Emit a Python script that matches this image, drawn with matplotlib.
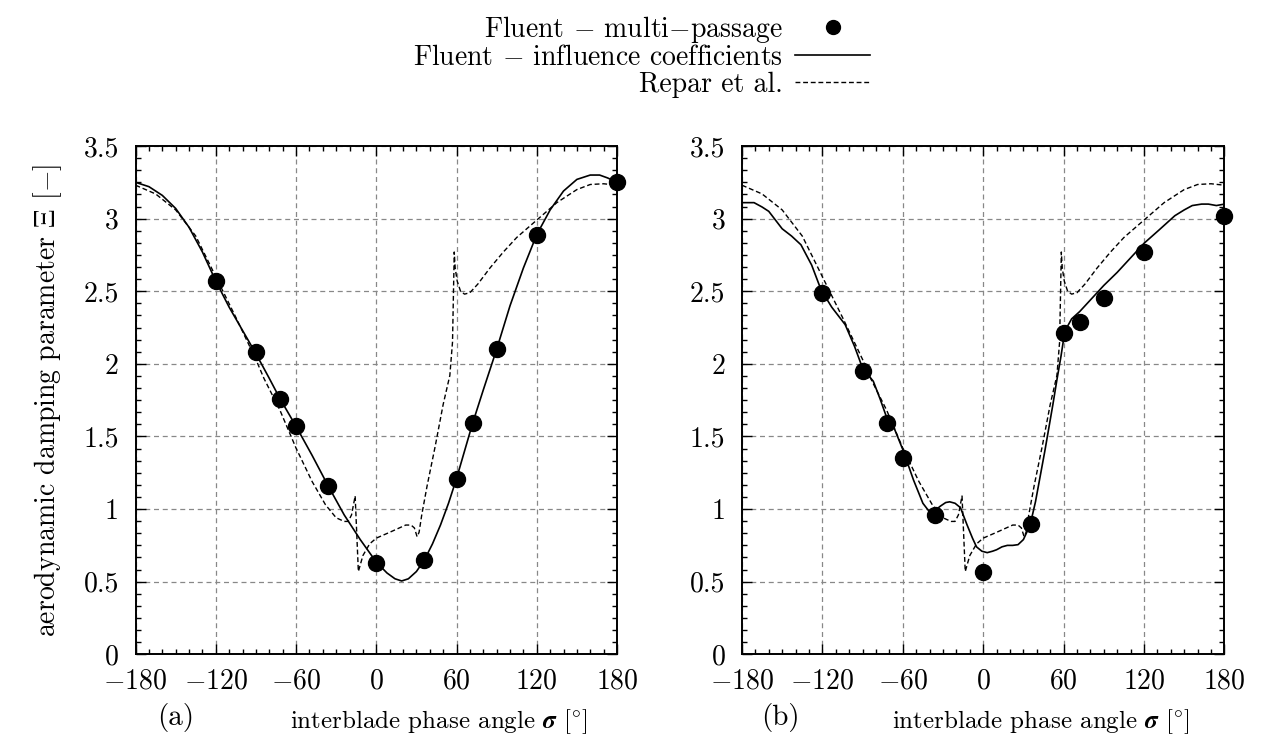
import matplotlib
matplotlib.use("Agg")
import matplotlib.pyplot as plt
from matplotlib.lines import Line2D
from matplotlib.ticker import MultipleLocator, FixedLocator

plt.rcParams['font.family'] = ['cmr10', 'DejaVu Serif']
plt.rcParams['mathtext.fontset'] = 'cm'
plt.rcParams['axes.formatter.use_mathtext'] = True
plt.rcParams['axes.unicode_minus'] = True

# ---------------- data ----------------
# multi-passage points (panel a)
mp_a_sigma = [-120, -90, -72, -60, -36, 0, 36, 60, 72, 90, 120, 180]
mp_a_xi = [2.57, 2.08, 1.76, 1.57, 1.16, 0.63, 0.65, 1.21, 1.59, 2.10, 2.89, 3.25]

# influence coefficients (panel a)
ic_a_sigma = [-180, -170, -160, -150, -140, -130, -120, -110, -100, -90, -80, -72,
              -60, -48, -36, -24, -12, 0, 8, 14, 19, 24, 30, 36, 42, 48, 54, 60,
              66, 72, 80, 90, 100, 110, 120, 130, 140, 150, 160, 167, 173, 180]
ic_a_xi = [3.25, 3.22, 3.16, 3.07, 2.94, 2.77, 2.57, 2.39, 2.23, 2.07, 1.90, 1.76,
           1.57, 1.37, 1.16, 0.96, 0.79, 0.635, 0.56, 0.52, 0.505, 0.52, 0.57, 0.65, 0.76, 0.89, 1.04, 1.21,
           1.40, 1.59, 1.82, 2.10, 2.40, 2.66, 2.89, 3.06, 3.19, 3.27, 3.30, 3.30, 3.28, 3.25]

# multi-passage points (panel b)
mp_b_sigma = [-120, -90, -72, -60, -36, 0, 36, 60, 72, 90, 120, 180]
mp_b_xi = [2.49, 1.95, 1.59, 1.35, 0.96, 0.57, 0.90, 2.21, 2.29, 2.45, 2.77, 3.02]

# influence coefficients (panel b)
ic_b_sigma = [-180, -171, -165, -160, -150, -143, -136, -128, -121, -113, -103, -96, -90,
              -82, -77, -72, -67, -60, -52, -45, -40, -36, -32, -28, -25, -21, -17, -12,
              -8, -5, -1, 3, 7, 10, 14, 18, 22, 26, 30, 33, 36, 39, 42, 46, 49, 52, 55,
              58, 60, 63, 66, 72, 80, 90, 100, 110, 120, 131, 143, 150, 156, 163, 168, 174, 180]
ic_b_xi = [3.11, 3.11, 3.08, 3.05, 2.93, 2.88, 2.82, 2.68, 2.51, 2.39, 2.27, 2.12, 1.97,
           1.88, 1.76, 1.63, 1.57, 1.41, 1.20, 1.04, 0.98, 0.99, 1.02, 1.045, 1.05, 1.04, 1.01, 0.89,
           0.80, 0.74, 0.71, 0.70, 0.71, 0.72, 0.74, 0.75, 0.75, 0.755, 0.79, 0.85, 0.93, 1.05, 1.20, 1.40, 1.56, 1.72, 1.89,
           2.05, 2.17, 2.26, 2.31, 2.36, 2.44, 2.54, 2.63, 2.73, 2.83, 2.92, 3.02, 3.06, 3.09, 3.10, 3.10, 3.09, 3.10]

# Repar et al. (same reference curve in both panels)
repar_sigma = [-180, -165, -150, -135, -120, -105, -90, -84, -72, -60, -48, -38, -30, -24,
               -21, -18.5, -15.8, -13.4, -10, -5, 0, 5, 10, 16, 22, 26, 28.5, 30.5, 32, 34,
               38, 44, 50, 55, 57, 58.3, 59, 60.5, 63, 66, 70, 76, 85, 95, 105, 120, 135,
               150, 160, 170, 180]
repar_xi = [3.23, 3.17, 3.06, 2.88, 2.60, 2.32, 2.03, 1.90, 1.68, 1.42, 1.19, 1.03, 0.94, 0.915,
            0.915, 0.96, 1.09, 0.57, 0.68, 0.76, 0.80, 0.82, 0.84, 0.865, 0.89, 0.89, 0.87, 0.81, 0.84, 0.96,
            1.16, 1.43, 1.72, 1.92, 2.15, 2.77, 2.66, 2.57, 2.50, 2.48, 2.49, 2.55, 2.66, 2.77, 2.87, 2.99, 3.11,
            3.20, 3.235, 3.24, 3.23]

x_ticks = [-180, -120, -60, 0, 60, 120, 180]
x_ticklabels = ['$-180$', '$-120$', '$-60$', '$0$', '$60$', '$120$', '$180$']
y_ticks = [0, 0.5, 1, 1.5, 2, 2.5, 3, 3.5]
y_ticklabels = ['0', '0.5', '1', '1.5', '2', '2.5', '3', '3.5']

FS = 20

fig = plt.figure(figsize=(12.61, 7.40), dpi=100)
ax_a = fig.add_axes([0.1075, 0.1158, 0.3818, 0.6869])
ax_b = fig.add_axes([0.5884, 0.1158, 0.3826, 0.6869])

for ax, mps, mpx, ics, icx, lx in [(ax_a, mp_a_sigma, mp_a_xi, ic_a_sigma, ic_a_xi, 0.63),
                                   (ax_b, mp_b_sigma, mp_b_xi, ic_b_sigma, ic_b_xi, 0.62)]:
    ax.set_xlim(-180, 180)
    ax.set_ylim(0, 3.5)
    ax.xaxis.set_major_locator(FixedLocator(x_ticks))
    ax.set_xticklabels(x_ticklabels)
    ax.yaxis.set_major_locator(FixedLocator(y_ticks))
    ax.set_yticklabels(y_ticklabels)
    ax.xaxis.set_minor_locator(MultipleLocator(10))
    ax.yaxis.set_minor_locator(MultipleLocator(0.5 / 6))
    ax.tick_params(which='both', direction='in', top=True, right=True, labelsize=FS, width=1.0)
    ax.tick_params(which='major', length=7)
    ax.tick_params(axis='x', which='major', pad=10)
    ax.tick_params(axis='y', which='major', pad=12)
    ax.tick_params(which='minor', length=3.5)
    ax.grid(True, which='major', color='#888888', linestyle=(0, (4, 3)), linewidth=0.9)
    for s in ax.spines.values():
        s.set_linewidth(1.4)
    ax.plot(repar_sigma, repar_xi, color='black', linestyle=(0, (3.5, 2)), linewidth=1.0, zorder=3)
    ax.plot(ics, icx, color='black', linestyle='-', linewidth=1.2, zorder=4)
    ax.plot(mps, mpx, linestyle='none', marker='o', markersize=11.5, color='black', zorder=5, clip_on=False)
    ax.set_xlabel(r'interblade phase angle $\boldsymbol{\sigma}$ [$^{\circ}$]', fontsize=18)
    ax.xaxis.set_label_coords(lx, -0.105)

ax_a.set_ylabel(r'aerodynamic damping parameter $\mathbf{\Xi}$ [$-$]', fontsize=FS, labelpad=14)
fig.text(176 / 1261, 1 - 718 / 740, '(a)', fontsize=FS + 1, ha='center', va='center')
fig.text(780 / 1261, 1 - 718 / 740, '(b)', fontsize=FS + 1, ha='center', va='center')

handles = [Line2D([], [], linestyle='none', marker='o', markersize=10, color='black'),
           Line2D([], [], linestyle='-', color='black', linewidth=1.2),
           Line2D([], [], linestyle=(0, (3.5, 2)), color='black', linewidth=1.0)]
labels = [r'Fluent $-$ multi$-$passage', r'Fluent $-$ influence coefficients', 'Repar et al.']
fig.legend(handles, labels, loc='upper right', bbox_to_anchor=(884 / 1261, 1.0),
           frameon=False, markerfirst=False, fontsize=20, handlelength=2.7,
           labelspacing=0.0, handletextpad=0.45, borderaxespad=0.1)

fig.savefig('out.png', dpi=100)
